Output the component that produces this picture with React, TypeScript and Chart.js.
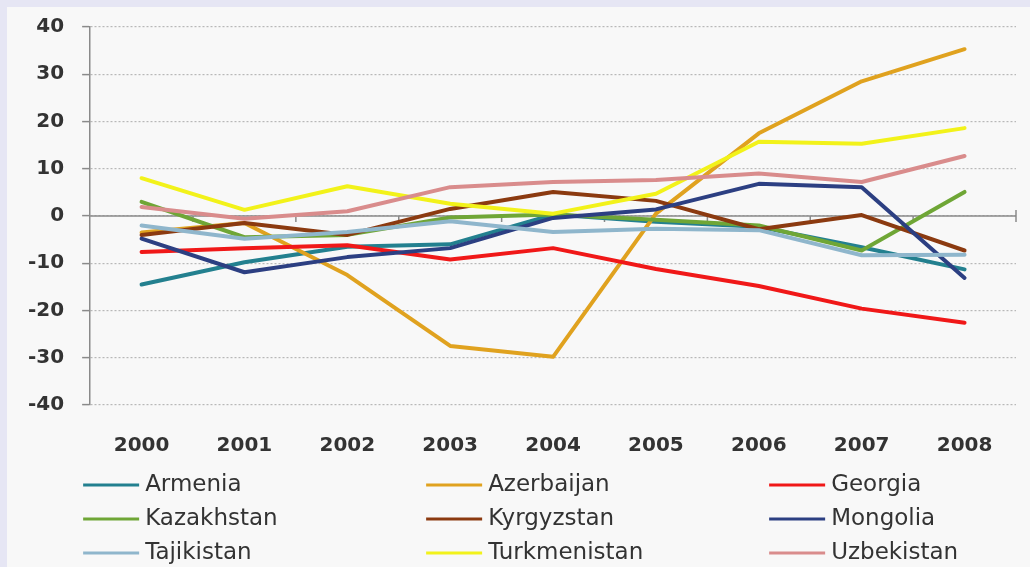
import React, { useEffect, useRef } from "react";
import { Chart, registerables } from "chart.js";

Chart.register(...registerables);

const years = ["2000", "2001", "2002", "2003", "2004", "2005", "2006", "2007", "2008"];
const countries = ["Armenia", "Azerbaijan", "Georgia", "Kazakhstan", "Kyrgyzstan", "Mongolia", "Tajikistan", "Turkmenistan", "Uzbekistan"];
const colors = ["#23808f", "#e0a21f", "#f01818", "#6fa636", "#8b3a10", "#2c3f82", "#8fb6cc", "#f2f21a", "#d98c8c"];

const armenia = [-14.5, -9.8, -6.5, -6.0, 0.3, -1.2, -2.3, -6.6, -11.3];
const azerbaijan = [-3.5, -1.5, -12.5, -27.5, -29.8, 0.5, 17.5, 28.5, 35.3];
const georgia = [-7.6, -6.8, -6.2, -9.2, -6.8, -11.2, -14.8, -19.6, -22.6];
const kazakhstan = [3.0, -4.5, -4.0, -0.3, 0.3, -0.8, -2.0, -7.3, 5.1];
const kyrgyzstan = [-4.0, -1.5, -4.0, 1.5, 5.1, 3.2, -2.8, 0.2, -7.3];
const mongolia = [-4.8, -11.9, -8.7, -6.8, -0.4, 1.4, 6.8, 6.1, -13.1];
const tajikistan = [-2.0, -4.8, -3.4, -1.1, -3.4, -2.7, -3.0, -8.3, -8.2];
const turkmenistan = [8.0, 1.3, 6.3, 2.6, 0.5, 4.7, 15.7, 15.3, 18.6];
const uzbekistan = [1.9, -0.6, 1.0, 6.1, 7.2, 7.6, 9.0, 7.2, 12.7];

const series = [armenia, azerbaijan, georgia, kazakhstan, kyrgyzstan, mongolia, tajikistan, turkmenistan, uzbekistan];

const yTicks = [-40, -30, -20, -10, 0, 10, 20, 30, 40];

const zeroLinePlugin = {
  id: "zeroLine",
  beforeDatasetsDraw(chart: any) {
    const { ctx, chartArea, scales } = chart;
    const y0 = scales.y.getPixelForValue(0);
    const n = years.length;
    const w = (chartArea.right - chartArea.left) / n;
    ctx.save();
    ctx.strokeStyle = "#8a8a8a";
    ctx.lineWidth = 1.5;
    ctx.beginPath();
    ctx.moveTo(chartArea.left, y0);
    ctx.lineTo(chartArea.right, y0);
    for (let k = 1; k <= n; k++) {
      const x = chartArea.left + k * w;
      ctx.moveTo(x, y0);
      ctx.lineTo(x, y0 + 6);
      if (k === n) {
        ctx.moveTo(x, y0 - 6);
        ctx.lineTo(x, y0);
      }
    }
    ctx.stroke();
    ctx.restore();
  },
};

const legendPlugin = {
  id: "gridLegend",
  afterDraw(chart: any) {
    const { ctx, chartArea } = chart;
    ctx.save();
    ctx.font = "23px 'DejaVu Sans'";
    ctx.textBaseline = "middle";
    ctx.textAlign = "left";
    chart.data.datasets.forEach((ds: any, i: number) => {
      const col = i % 3;
      const row = Math.floor(i / 3);
      const x = chartArea.left - 7 + col * 343;
      const y = chartArea.bottom + 80 + row * 34;
      ctx.strokeStyle = ds.borderColor;
      ctx.lineWidth = 3;
      ctx.beginPath();
      ctx.moveTo(x, y);
      ctx.lineTo(x + 56, y);
      ctx.stroke();
      ctx.fillStyle = "#333333";
      ctx.fillText(ds.label, x + 62, y);
    });
    ctx.restore();
  },
};

export default function App() {
  const ref = useRef<HTMLCanvasElement>(null);
  useEffect(() => {
    if (!ref.current) return;
    const chart = new Chart(ref.current, {
      type: "line",
      data: {
        labels: years,
        datasets: countries.map((c, i) => ({
          label: c,
          data: series[i],
          borderColor: colors[i],
          backgroundColor: colors[i],
          borderWidth: 4,
          pointRadius: 0,
          tension: 0,
          fill: false,
          borderCapStyle: "round",
          borderJoinStyle: "round",
          order: countries.length - i,
        })),
      },
      options: {
        animation: false,
        responsive: false,
        maintainAspectRatio: false,
        layout: { padding: { left: 3, right: 14, top: 18, bottom: 80 } },
        plugins: { legend: { display: false }, tooltip: { enabled: false } },
        scales: {
          x: {
            offset: true,
            grid: { display: false, drawTicks: false },
            border: { display: false },
            ticks: {
              padding: 29,
              color: "#333333",
              font: { family: "'DejaVu Sans'", size: 20, weight: "bold" },
            },
          },
          y: {
            min: -40,
            max: 40,
            afterBuildTicks: (axis: any) => {
              axis.ticks = yTicks.map((v) => ({ value: v }));
            },
            grid: {
              color: "#b8b8b8",
              lineWidth: 1.2,
              drawTicks: true,
              tickLength: 8,
              tickColor: "#8a8a8a",
              tickWidth: 1.5,
            },
            border: { display: true, color: "#8a8a8a", width: 1.5, dash: [2, 2] },
            ticks: {
              padding: 18,
              color: "#333333",
              font: { family: "'DejaVu Sans'", size: 20, weight: "bold", lineHeight: 0.2 },
            },
          },
        },
      },
      plugins: [zeroLinePlugin, legendPlugin],
    } as any);
    return () => chart.destroy();
  }, []);
  return (
    <div style={{ position: "fixed", left: 0, top: 0, width: 1030, height: 567, background: "#e6e6f4" }}>
      <div style={{ position: "absolute", left: 7, top: 7, width: 1023, height: 560, background: "#f8f8f8" }}>
        <canvas ref={ref} width={1023} height={560} style={{ display: "block", width: 1023, height: 560 }} />
      </div>
    </div>
  );
}
